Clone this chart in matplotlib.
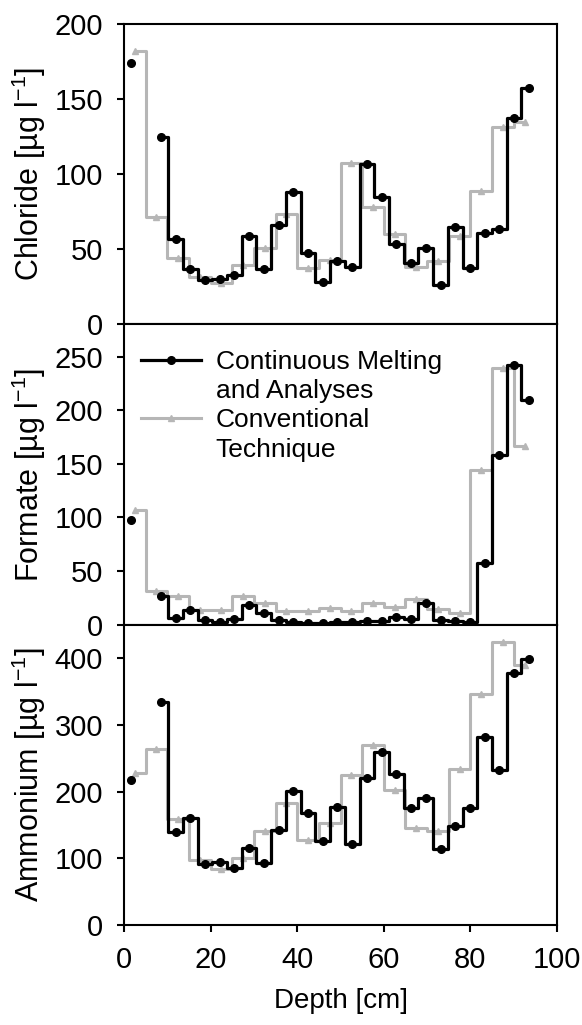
import numpy as np
import matplotlib
matplotlib.use('Agg')
import matplotlib.pyplot as plt
from matplotlib.lines import Line2D

plt.rcParams['font.family'] = ['Liberation Sans', 'DejaVu Sans']
plt.rcParams['mathtext.fontset'] = 'custom'
plt.rcParams['mathtext.rm'] = 'Liberation Sans'
plt.rcParams['mathtext.it'] = 'Liberation Sans:italic'

# depth of the samples [cm]
cfa_depth = [1.7, 8.5, 11.9, 15.3, 18.7, 22.1, 25.5, 28.9, 32.3, 35.7, 39.1, 42.5, 45.9, 49.3,
             52.7, 56.1, 59.5, 62.9, 66.3, 69.7, 73.1, 76.5, 79.9, 83.3, 86.7, 90.1, 93.5]
conv_depth = [2.5, 7.5, 12.5, 17.5, 22.5, 27.5, 32.5, 37.5, 42.5, 47.5,
              52.5, 57.5, 62.5, 67.5, 72.5, 77.5, 82.5, 87.5, 92.5]

# continuous melting and analyses
cfa_chloride = [173.8, 125, 56.5, 37, 29.6, 30, 32.8, 58.9, 37.1, 66, 87.8, 47.5, 28.3, 42.2,
                38.2, 106.5, 84.9, 53.3, 40.7, 51.1, 26, 65.1, 37.8, 60.7, 63.8, 137.3, 157.1]
cfa_formate = [98, 27, 6, 13.5, 4.3, 2.2, 5.5, 18.7, 10.5, 4.7, 2.7, 2, 2, 2.7,
               2.4, 3.1, 3.7, 7.5, 5, 20.2, 4.7, 3.1, 2.4, 57.5, 158.6, 242.5, 209]
cfa_ammonium = [216.8, 333.8, 139.5, 160.1, 91.3, 93.9, 85.3, 115.4, 92.8, 143, 200.3, 168.1, 125.5, 177.2,
                121.5, 220.8, 258.5, 225.8, 175.7, 190.7, 113.9, 148, 175.7, 281, 232.4, 377.9, 399]

# conventional technique
conv_chloride = [182.2, 71.8, 43.9, 31.5, 27.2, 39.6, 51.1, 73.6, 37.5, 42.8,
                 107.3, 78.3, 60, 38, 42.5, 58.9, 88.9, 131.1, 134.9]
conv_formate = [106.7, 31.5, 26.4, 14, 14, 26.4, 20.5, 12.4, 12.4, 15.8,
                12.4, 19.8, 16.5, 23.6, 14.6, 10.9, 144.6, 239.4, 167]
conv_ammonium = [228.4, 263.5, 159.1, 96.9, 83.8, 100.4, 140.5, 183.2, 127, 152.1,
                 224.3, 269.5, 201.8, 145.5, 140.5, 234.4, 346.3, 424.1, 389]

panels = [('Chloride [µg l$^{-1}$]', cfa_chloride, conv_chloride, 200, [0, 50, 100, 150, 200]),
          ('Formate [µg l$^{-1}$]', cfa_formate, conv_formate, 280, [0, 50, 100, 150, 200, 250]),
          ('Ammonium [µg l$^{-1}$]', cfa_ammonium, conv_ammonium, 450, [0, 100, 200, 300, 400])]

black = '#000000'
grey = '#b6b6b6'

fig, axes = plt.subplots(3, 1, figsize=(5.82, 10.25), dpi=100, sharex=True)
fig.subplots_adjust(left=124/582, right=557/582, top=1-24/1025, bottom=1-925/1025, hspace=0)

for ax, (lab, cfa, conv, ymax, yt) in zip(axes, panels):
    ax.step(conv_depth, conv, where='mid', color=grey, lw=2.2, zorder=2)
    ax.plot(conv_depth, conv, ls='none', marker='^', ms=4, color=grey, zorder=2)
    # first continuous sample is not connected to the rest
    ax.step(cfa_depth[1:], cfa[1:], where='mid', color=black, lw=2.3, zorder=3)
    ax.plot(cfa_depth, cfa, ls='none', marker='o', ms=5.5, color=black, zorder=3)
    ax.set_ylim(0, ymax)
    ax.set_yticks(yt)
    ax.set_xlim(0, 100)
    ax.set_ylabel(lab, fontsize=22)
    ax.yaxis.set_label_coords(-0.176, 0.5)
    for s in ax.spines.values():
        s.set_linewidth(1.5)
    ax.tick_params(axis='both', direction='out', length=5, width=1.5, labelsize=21, pad=10)

axes[0].tick_params(axis='x', bottom=False)
axes[1].tick_params(axis='x', bottom=False)
axes[2].set_xticks([0, 20, 40, 60, 80, 100])
axes[2].set_xlabel('Depth [cm]', fontsize=20, labelpad=10)

h1 = Line2D([], [], color=black, lw=2.3, marker='o', ms=5.5)
h2 = Line2D([], [], color=grey, lw=2.2, marker='^', ms=4)
blank = Line2D([], [], color='none')
axes[1].legend([h1, blank, h2, blank],
               ['Continuous Melting', 'and Analyses', 'Conventional', 'Technique'],
               loc='upper left', frameon=False, fontsize=19, handlelength=2.27,
               handletextpad=0.57, labelspacing=0.2, borderaxespad=0,
               bbox_to_anchor=(0.014, 0.95))

fig.savefig('out.png', dpi=100)
